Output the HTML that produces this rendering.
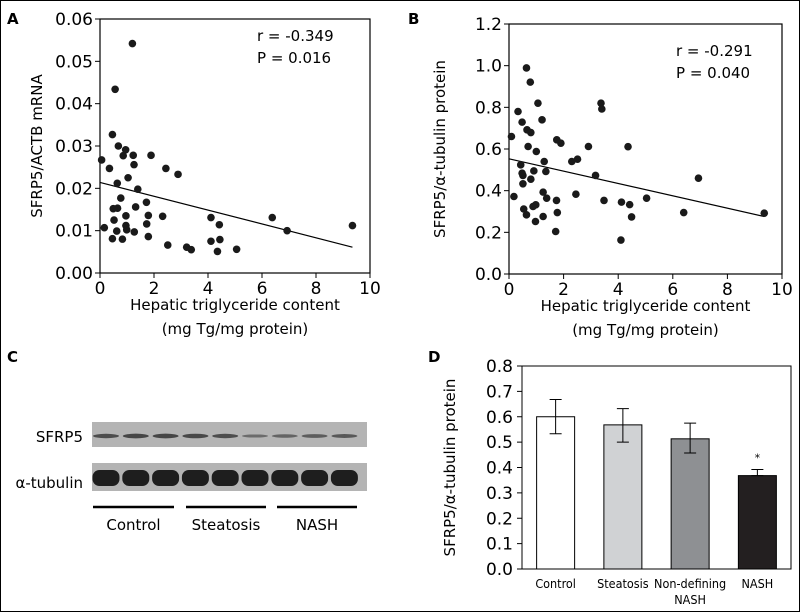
<!DOCTYPE html>
<html><head><meta charset="utf-8">
<style>
body{margin:0;background:#fff}
svg{display:block;font-family:"DejaVu Sans","Liberation Sans",sans-serif}
</style></head>
<body>
<svg id="fig" width="800" height="612" viewBox="0 0 800 612">
<rect x="0.5" y="0.5" width="799" height="611" fill="#fff" stroke="#000"/>
<g id="pa"></g>
<g id="pb"></g>
<g id="pc"></g>
<g id="pd"></g>
</svg>
<script>
const aX=[0.06,0.16,0.35,0.46,0.46,0.49,0.52,0.56,0.62,0.64,0.65,0.68,0.77,0.83,0.86,0.95,0.96,0.96,0.99,1.04,1.2,1.23,1.26,1.27,1.32,1.4,1.72,1.73,1.79,1.79,1.89,2.32,2.44,2.51,2.89,3.21,3.38,4.11,4.11,4.35,4.42,4.44,5.06,6.38,6.93,9.35];
const aY=[0.0267,0.0107,0.0247,0.0327,0.0081,0.0152,0.0125,0.0434,0.0099,0.0212,0.0153,0.030,0.0177,0.008,0.0277,0.0291,0.0135,0.0112,0.0102,0.0225,0.0542,0.0278,0.0256,0.0097,0.0156,0.0198,0.0167,0.0116,0.0136,0.0086,0.0278,0.0134,0.0247,0.0066,0.0233,0.0061,0.0055,0.0131,0.0075,0.0051,0.0114,0.0079,0.0056,0.0131,0.010,0.0112];
const aFit=[0.0214,0.0061];
const bX=[0.09,0.18,0.33,0.43,0.48,0.48,0.51,0.51,0.54,0.64,0.64,0.66,0.70,0.78,0.8,0.8,0.88,0.91,0.97,0.98,1.0,1.06,1.21,1.25,1.25,1.29,1.35,1.38,1.71,1.74,1.75,1.77,1.9,2.3,2.45,2.51,2.91,3.17,3.37,3.4,3.48,4.1,4.12,4.36,4.42,4.49,5.04,6.4,6.94,9.35];
const bY=[0.66,0.372,0.78,0.524,0.729,0.484,0.473,0.433,0.312,0.989,0.284,0.692,0.612,0.921,0.679,0.455,0.324,0.495,0.252,0.332,0.588,0.82,0.74,0.393,0.276,0.54,0.492,0.364,0.204,0.353,0.644,0.295,0.628,0.54,0.383,0.551,0.612,0.473,0.82,0.792,0.353,0.163,0.345,0.611,0.333,0.274,0.364,0.295,0.46,0.292];
const bFit=[0.553,0.276];
const fitX=[0,9.35];
const xTicks=[0,2,4,6,8,10];
const aTicks=["0.00","0.01","0.02","0.03","0.04","0.05","0.06"];
const bTicks=["0.0","0.2","0.4","0.6","0.8","1.0","1.2"];
const dCats=["Control","Steatosis","Non-defining","NASH"];
const dCats2=["","","NASH",""];
const dVals=[0.600,0.568,0.513,0.368];
const dErrLo=[0.533,0.500,0.457,0.368];
const dErrHi=[0.668,0.632,0.575,0.392];
const dColors=["#ffffff","#d0d2d4","#8e9093","#231f20"];
const dTicks=["0.0","0.1","0.2","0.3","0.4","0.5","0.6","0.7","0.8"];
const blotSfrp=[0.75,0.85,0.85,0.8,0.75,0.35,0.45,0.55,0.6];

const NS="http://www.w3.org/2000/svg";
function mk(p,t,a,txt){const e=document.createElementNS(NS,t);for(const k in a)e.setAttribute(k,a[k]);if(txt!==undefined)e.textContent=txt;p.appendChild(e);return e;}

function scatter(g,cfg){
  const {x0,x1,y0,y1,ymax,xs,ys,fit,ticks,label,lx,yTitle,ytx,r,p,rx,ry}=cfg;
  const sx=v=>x0+(x1-x0)*v/10, sy=v=>y0-(y0-y1)*v/ymax;
  let t=mk(g,'text',{x:lx,y:24,'font-size':15,'font-weight':'bold'},label);
  
  let fr=mk(g,'rect',{x:x0,y:y1,width:x1-x0,height:y0-y1,fill:'none',stroke:'#000','stroke-width':1.2});
  
  ticks.forEach((s,i)=>{const v=ymax*i/(ticks.length-1);const y=sy(v);
    mk(g,'line',{x1:x0-5,x2:x0,y1:y,y2:y,stroke:'#000'});
    const e=mk(g,'text',{x:x0-7,y:y+6,'font-size':17,'text-anchor':'end'},s);
    });
  xTicks.forEach(v=>{const x=sx(v);mk(g,'line',{x1:x,x2:x,y1:y0,y2:y0+5,stroke:'#000'});
    const e=mk(g,'text',{x:x,y:y0+21,'font-size':17,'text-anchor':'middle'},String(v));
    });
  const cx=(x0+x1)/2;
  let e=mk(g,'text',{x:cx,y:y0+37,'font-size':15,'text-anchor':'middle'},'Hepatic triglyceride content');
  
  e=mk(g,'text',{x:cx,y:y0+61,'font-size':15,'text-anchor':'middle'},'(mg Tg/mg protein)');
  
  const cy=(y0+y1)/2;
  e=mk(g,'text',{x:ytx,y:cy,'font-size':15,'text-anchor':'middle',transform:`rotate(-90 ${ytx} ${cy})`},yTitle);
  
  e=mk(g,'line',{x1:sx(fitX[0]),y1:sy(fit[0]),x2:sx(fitX[1]),y2:sy(fit[1]),stroke:'#000','stroke-width':1.2});
  
  xs.forEach((v,i)=>{const c=mk(g,'circle',{cx:sx(v),cy:sy(ys[i]),r:3.8,fill:'#1a1a1a'});
    });
  e=mk(g,'text',{x:rx,y:ry,'font-size':15},r);
  e=mk(g,'text',{x:rx,y:ry+22,'font-size':15},p);
}
scatter(document.getElementById('pa'),{x0:100,x1:370,y0:273,y1:19,ymax:0.06,xs:aX,ys:aY,fit:aFit,ticks:aTicks,label:'A',lx:7,yTitle:'SFRP5/ACTB mRNA',ytx:42,r:'r = -0.349',p:'P = 0.016',rx:257,ry:41});
scatter(document.getElementById('pb'),{x0:509,x1:782,y0:274,y1:24,ymax:1.2,xs:bX,ys:bY,fit:bFit,ticks:bTicks,label:'B',lx:408,yTitle:'SFRP5/α-tubulin protein',ytx:445,r:'r = -0.291',p:'P = 0.040',rx:676,ry:56});

// Panel C
(function(){const g=document.getElementById('pc');
 let e=mk(g,'text',{x:7,y:362,'font-size':15,'font-weight':'bold'},'C');
 e=mk(g,'rect',{x:92,y:422,width:275,height:25,fill:'#b4b4b4'});
 e=mk(g,'rect',{x:92,y:463,width:275,height:28,fill:'#b4b4b4'});
 blotSfrp.forEach((v,i)=>{const cx=106+i*29.8;
   let b=mk(g,'ellipse',{cx:cx,cy:436,rx:13,ry:1+1.6*v,fill:'#333','fill-opacity':0.35+0.6*v});
   
   b=mk(g,'rect',{x:cx-13.5,y:470,width:27,height:16,rx:7,fill:'#1e1e1e'});
   });
 e=mk(g,'text',{x:83,y:442,'font-size':15,'text-anchor':'end'},'SFRP5');
 e=mk(g,'text',{x:83,y:488,'font-size':15,'text-anchor':'end'},'α-tubulin');
 [[93,174,'Control'],[186,266,'Steatosis'],[277,357,'NASH']].forEach(a=>{
   let l=mk(g,'line',{x1:a[0],x2:a[1],y1:507,y2:507,stroke:'#000','stroke-width':2.5});
   
   let t=mk(g,'text',{x:(a[0]+a[1])/2,y:530,'font-size':15,'text-anchor':'middle'},a[2]);
   });
})();

// Panel D
(function(){const g=document.getElementById('pd');
 const x0=522,x1=791,y0=569,y1=366,ymax=0.8;const sy=v=>y0-(y0-y1)*v/ymax;
 let e=mk(g,'text',{x:428,y:362,'font-size':15,'font-weight':'bold'},'D');
 e=mk(g,'rect',{x:x0,y:y1,width:x1-x0,height:y0-y1,fill:'none',stroke:'#000','stroke-width':1});
 dTicks.forEach((s,i)=>{const y=sy(ymax*i/(dTicks.length-1));mk(g,'line',{x1:x0-5,x2:x0,y1:y,y2:y,stroke:'#000'});
  const t=mk(g,'text',{x:x0-9,y:y+6,'font-size':17,'text-anchor':'end'},s);});
 const cy=(y0+y1)/2;
 e=mk(g,'text',{x:455,y:cy,'font-size':15,'text-anchor':'middle',transform:`rotate(-90 455 ${cy})`},'SFRP5/α-tubulin protein');
 const step=(x1-x0)/4,bw=38;
 dVals.forEach((v,i)=>{const cx=x0+step*(i+0.5);
  const b=mk(g,'rect',{x:cx-bw/2,y:sy(v),width:bw,height:y0-sy(v),fill:dColors[i],stroke:'#000','stroke-width':1});
  
  const eb=mk(g,'path',{d:`M${cx},${sy(dErrLo[i])}V${sy(dErrHi[i])}M${cx-6},${sy(dErrHi[i])}H${cx+6}M${cx-6},${sy(dErrLo[i])}H${cx+6}`,stroke:'#000',fill:'none'});
  
  let t=mk(g,'text',{x:cx,y:588,'font-size':12.5,'text-anchor':'middle','font-family':'DejaVu Sans Condensed, DejaVu Sans, sans-serif'},dCats[i]);
  if(dCats2[i]){t=mk(g,'text',{x:cx,y:604,'font-size':12.5,'text-anchor':'middle','font-family':'DejaVu Sans Condensed, DejaVu Sans, sans-serif'},dCats2[i]);}
 });
 e=mk(g,'text',{x:x0+step*3.5,y:sy(dErrHi[3])-8,'font-size':11,'text-anchor':'middle'},'*');
})();
</script>
</body></html>
